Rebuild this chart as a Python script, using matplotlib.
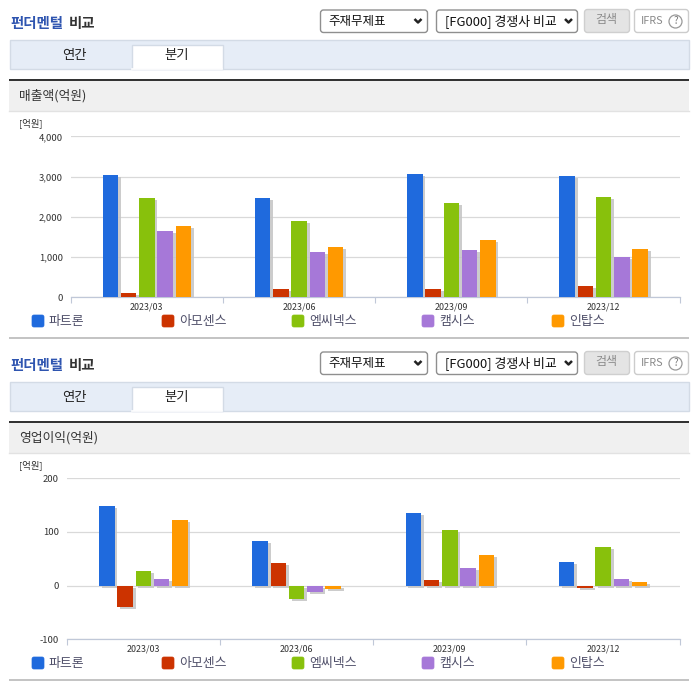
import matplotlib
matplotlib.use('Agg')
import matplotlib.pyplot as plt
import matplotlib.patheffects as pe
from matplotlib.patches import Rectangle, FancyBboxPatch
import numpy as np

plt.rcParams['font.family'] = ['Noto Sans CJK KR', 'DejaVu Sans']

W, H = 696, 684

quarters = ['2023/03', '2023/06', '2023/09', '2023/12']
companies = ['파트론', '아모센스', '엠씨넥스', '캠시스', '인탑스']
colors = ['#1f6add', '#cc3300', '#88c10c', '#a678d8', '#ff9900']

# 매출액(억원)
sales_partron = [3050, 2480, 3075, 3025]
sales_amosense = [115, 215, 215, 290]
sales_mcnex = [2480, 1905, 2355, 2505]
sales_camsys = [1655, 1135, 1185, 1010]
sales_intops = [1780, 1260, 1435, 1210]

# 영업이익(억원)
profit_partron = [149, 83, 135, 44]
profit_amosense = [-39, 42, 11, -4]
profit_mcnex = [27, -24, 103, 72]
profit_camsys = [12, -11, 33, 12]
profit_intops = [123, -7, 57, 7]

sales_ticks = [0, 1000, 2000, 3000, 4000]
profit_ticks = [-100, 0, 100, 200]

fig = plt.figure(figsize=(W / 100, H / 100), dpi=100, facecolor='white')

# page chrome is drawn in pixel coords on one full-size axes
bg = fig.add_axes([0, 0, 1, 1])
bg.set_xlim(0, W)
bg.set_ylim(H, 0)
bg.axis('off')


def box(x0, y0, x1, y1, face, edge='none', lw=1.0, z=1):
    bg.add_patch(Rectangle((x0, y0), x1 - x0, y1 - y0, facecolor=face, edgecolor=edge, lw=lw, zorder=z))


def rbox(x0, y0, x1, y1, face, edge, r=3, lw=1.0, z=2):
    bg.add_patch(FancyBboxPatch((x0 + r, y0 + r), x1 - x0 - 2 * r, y1 - y0 - 2 * r,
                                boxstyle='round,pad=%d,rounding_size=%d' % (r, r),
                                facecolor=face, edgecolor=edge, lw=lw, zorder=z))


def chevron(x, y):
    bg.plot([x - 3.5, x, x + 3.5], [y - 2, y + 1.5, y - 2], color='#222222', lw=1.8, zorder=4,
            solid_capstyle='butt')


def panel(off, label):
    # title
    bg.text(10, 24 + off, '펀더멘털', color='#2f55b0', fontsize=10.4, fontweight='bold', va='center', ha='left')
    bg.text(69, 24 + off, '비교', color='#333333', fontsize=10.4, fontweight='bold', va='center', ha='left')

    # selects and buttons
    rbox(320.5, 10 + off, 427.5, 32.5 + off, 'white', '#8f8f8f')
    bg.text(328, 21 + off, '주재무제표', color='#111111', fontsize=9, va='center', ha='left', zorder=5)
    chevron(418, 21 + off)
    rbox(436.5, 10 + off, 577.5, 32.5 + off, 'white', '#8f8f8f')
    bg.text(445, 21 + off, '[FG000] 경쟁사 비교', color='#111111', fontsize=9.3, va='center', ha='left', zorder=5)
    chevron(568.5, 21 + off)
    rbox(584.5, 9.5 + off, 629.5, 32.5 + off, '#e4e4e4', '#cfcfcf')
    bg.text(606.5, 20 + off, '검색', color='#8a8a8a', fontsize=8.6, va='center', ha='center', zorder=5)
    rbox(634.5, 9.5 + off, 688.5, 32.5 + off, 'white', '#cccccc')
    bg.text(652.5, 21 + off, 'IFRS', color='#8a8a8a', fontsize=7.8, va='center', ha='center', zorder=5)
    bg.add_patch(plt.Circle((675.5, 21.5 + off), 6.5, facecolor='white', edgecolor='#999999', lw=0.9, zorder=5))
    bg.text(675.5, 21.5 + off, '?', color='#777777', fontsize=7, va='center', ha='center', zorder=6)

    # tabs
    box(9.5, 39.5 + off, 688.5, 68.5 + off, '#e6edf7', '#d3dbe6')
    box(131.5, 44.5 + off, 222.5, 69 + off, 'white', '#d3dbe6', z=2)
    bg.plot([132, 222], [69 + off, 69 + off], color='white', lw=1.2, zorder=3)
    bg.text(74, 55.5 + off, '연간', color='#222222', fontsize=9.6, va='center', ha='center', zorder=5)
    bg.text(177, 55.5 + off, '분기', color='#222222', fontsize=9.6, va='center', ha='center', zorder=5)

    # section header
    box(9, 81 + off, 689, 111 + off, '#f0f0f0')
    box(9, 79 + off, 689, 81 + off, '#333333', z=2)
    bg.plot([9, 689], [111 + off, 111 + off], color='#e2e2e2', lw=1, zorder=2)
    bg.text(19, 96 + off, label, color='#333333', fontsize=9.2, va='center', ha='left')

    bg.text(19, 123 + off, '[억원]', color='#333333', fontsize=6.8, va='center', ha='left')

    # bottom rule
    box(9, 336.5 + off, 689, 338.5 + off, '#c4c4c4')

    # legend row
    for i, name in enumerate(companies):
        x = 32 + 130 * i
        rbox(x, 315 + off, x + 12, 327 + off, colors[i], colors[i], r=2, lw=0.5)
        bg.text(x + 17, 321 + off, name, color='#50506a', fontsize=9.3, va='center', ha='left')


def bars(left, right, top, bottom, ymin, ymax, ticks, series):
    ax = fig.add_axes([left / W, 1 - bottom / H, (right - left) / W, (bottom - top) / H])
    ax.patch.set_alpha(0)
    ax.set_xlim(0, len(quarters))
    ax.set_ylim(ymin, ymax)
    band = (right - left) / len(quarters)
    bw = 15.5 / band
    step = 18.25 / band
    shadow = [pe.SimplePatchShadow(offset=(2, -1.5), shadow_rgbFace='#c4c4c4', alpha=0.85), pe.Normal()]
    xs = np.arange(len(quarters)) + 0.5
    for i, vals in enumerate(series):
        bs = ax.bar(xs + (i - 2) * step, vals, width=bw, color=colors[i], zorder=3)
        for b in bs:
            b.set_path_effects(shadow)
    ax.set_yticks(ticks)
    ax.set_yticklabels(['{:,}'.format(t) for t in ticks], fontsize=6.8, color='#333333')
    ax.set_xticks(np.arange(len(quarters) + 1))
    ax.set_xticklabels([])
    ax.set_xticks(xs, minor=True)
    ax.set_xticklabels(quarters, minor=True, fontsize=6.4, color='#333333')
    ax.tick_params(axis='y', length=0, pad=5.5)
    ax.tick_params(axis='x', which='major', length=4.5, width=0.8, color='#c0c8d8')
    ax.tick_params(axis='x', which='minor', length=0, pad=3.5)
    ax.grid(axis='y', color='#d9d9d9', lw=0.9, zorder=0)
    ax.set_axisbelow(True)
    for s in ['top', 'right', 'left']:
        ax.spines[s].set_visible(False)
    ax.spines['bottom'].set_color('#c0c8d8')
    ax.spines['bottom'].set_linewidth(0.9)
    return ax


panel(0, '매출액(억원)')
panel(342, '영업이익(억원)')

bars(70.7, 679.7, 136.5, 297.3, 0, 4000, sales_ticks,
     [sales_partron, sales_amosense, sales_mcnex, sales_camsys, sales_intops])
bars(66.7, 679.7, 478.3, 639.3, -100, 200, profit_ticks,
     [profit_partron, profit_amosense, profit_mcnex, profit_camsys, profit_intops])

fig.savefig('out.png', dpi=100)
